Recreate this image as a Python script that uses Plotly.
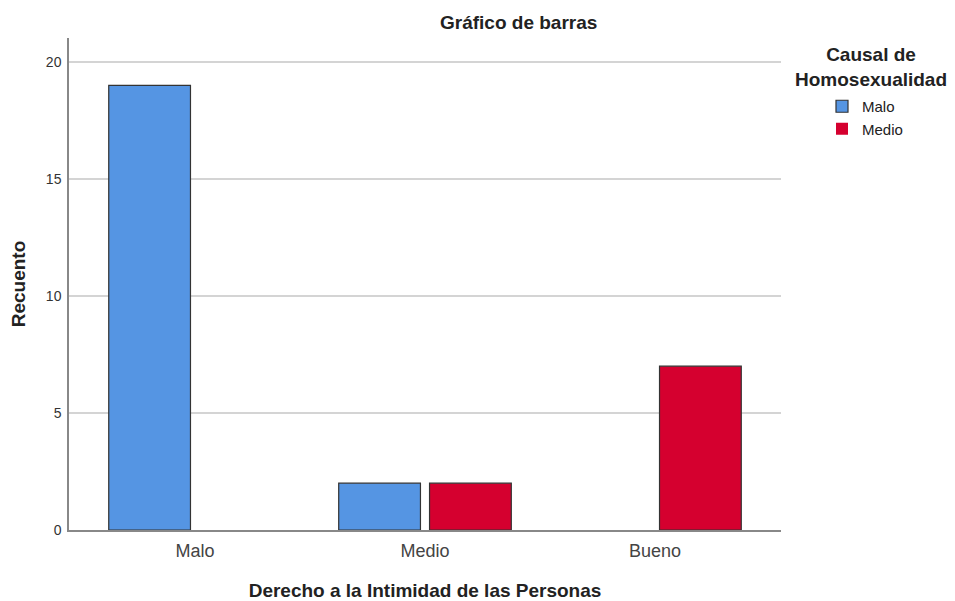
import plotly.graph_objects as go

categories = ["Malo", "Medio", "Bueno"]
series_names = ["Malo", "Medio"]
malo_values = [19, 2, 0]
medio_values = [0, 2, 7]
y_ticks = [0, 5, 10, 15, 20]

colors = ["#5595E3", "#D5002F"]
FONT = "Liberation Sans, Arial, sans-serif"

# page body has an 8px margin; plot area in page px: x 69..781, y 38..530
PX_L, PX_R, PX_T, PX_B = 69, 781, 38, 530


def px(xp):
    return (xp - PX_L) / (PX_R - PX_L)


def py(yp):
    return (PX_B - yp) / (PX_B - PX_T)


fig = go.Figure()
for name, vals, col in zip(series_names, [malo_values, medio_values], colors):
    fig.add_trace(go.Bar(
        x=categories, y=vals, name=name,
        marker=dict(color=col,
                    line=dict(color="#333333",
                              width=[1.2 if v > 0 else 0 for v in vals])),
    ))

fig.update_layout(
    width=947, height=593,
    margin=dict(l=61, r=174, t=30, b=71, autoexpand=False),
    paper_bgcolor="white", plot_bgcolor="white",
    barmode="group", bargap=0.21, bargroupgap=0.1,
    font=dict(family=FONT, color="#222222"),
    showlegend=True,
    legend=dict(
        x=px(822), xanchor="left", y=py(90), yanchor="top",
        font=dict(size=15, color="#222222", family=FONT),
        tracegroupgap=0,
        bgcolor="rgba(0,0,0,0)",
    ),
    annotations=[
        dict(text="<b>Gráfico de barras</b>", xref="paper", yref="paper",
             x=px(518), y=py(22), yanchor="middle", xanchor="center",
             showarrow=False, font=dict(size=19, family=FONT, color="#222222")),
        dict(text="<b>Causal de<br>Homosexualidad</b>", xref="paper", yref="paper",
             x=px(871), y=py(67), xanchor="center", yanchor="middle",
             showarrow=False, align="center",
             font=dict(size=19, family=FONT, color="#222222")),
    ],
)

fig.update_xaxes(
    range=[-0.548, 2.548],
    automargin=False,
    showline=True, linecolor="#888888", linewidth=1.5,
    ticks="", showgrid=False,
    tickfont=dict(size=18, color="#444444", family=FONT),
    ticklabelstandoff=4,
    title=dict(text="<b>Derecho a la Intimidad de las Personas</b>",
               font=dict(size=19, family=FONT, color="#222222"), standoff=28),
)
fig.update_yaxes(
    range=[0, (PX_B - PX_T) / ((PX_B - 62) / 20)],
    automargin=False,
    tickvals=y_ticks,
    showline=True, linecolor="#888888", linewidth=1.5,
    ticks="", showgrid=True, gridcolor="#D4D4D4", gridwidth=1.5,
    zeroline=False,
    tickfont=dict(size=14, color="#333333", family=FONT),
    ticklabelstandoff=3,
    title=dict(text="<b>Recuento</b>", font=dict(size=19, family=FONT, color="#222222"),
               standoff=16),
)

fig.write_html("out.html")
